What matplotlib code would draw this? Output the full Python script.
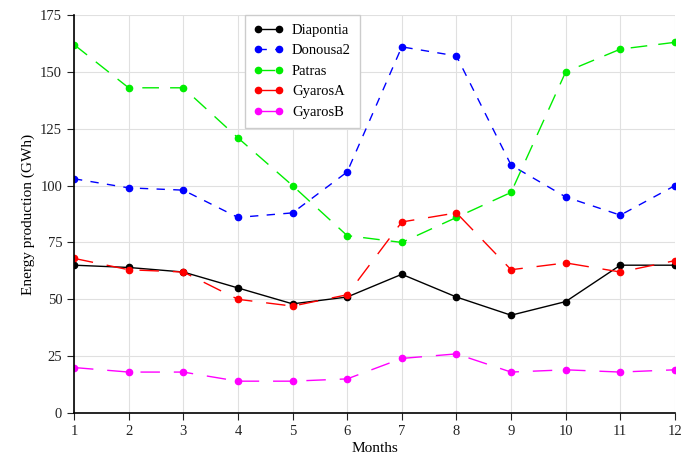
import matplotlib
matplotlib.use("Agg")
import matplotlib.pyplot as plt

months = list(range(1, 13))
diapontia = [65, 64, 62, 55, 48, 51, 61, 51, 43, 49, 65, 65]
donousa2 = [103, 99, 98, 86, 88, 106, 161, 157, 109, 95, 87, 100]
patras = [162, 143, 143, 121, 100, 78, 75, 86, 97, 150, 160, 163]
gyarosA = [68, 63, 62, 50, 47, 52, 84, 88, 63, 66, 62, 67]
gyarosB = [20, 18, 18, 14, 14, 15, 24, 26, 18, 19, 18, 19]
yticks = [0, 25, 50, 75, 100, 125, 150, 175]

plt.rcParams['font.family'] = ['Liberation Serif', 'DejaVu Serif']
fig = plt.figure(figsize=(6.82, 4.65), dpi=100)
ax = fig.add_axes([0.1085, 0.1118, 0.8812, 0.8559])

ms = 4.5
ax.plot(months, diapontia, color='black', lw=1.0, ls='-', marker='o', ms=ms, label='Diapontia')
ax.plot(months, donousa2, color='#0000ff', lw=1.0, ls=(0, (6, 6)), marker='o', ms=ms, label='Donousa2')
ax.plot(months, patras, color='#00ee00', lw=1.0, ls=(0, (12, 8)), marker='o', ms=ms, label='Patras')
ax.plot(months, gyarosA, color='#ff0000', lw=1.0, ls=(0, (14, 10)), marker='o', ms=ms, label='GyarosA')
ax.plot(months, gyarosB, color='#ff00ff', lw=1.0, ls=(0, (14, 10)), marker='o', ms=ms, label='GyarosB')

ax.set_xlim(1, 12)
ax.set_ylim(0, 175)
ax.set_xticks(months)
ax.set_yticks(yticks)
ax.grid(True, color='#e0e0e0', lw=0.8)
ax.set_axisbelow(True)
for s in ['top', 'right']:
    ax.spines[s].set_visible(False)
ax.spines['left'].set_linewidth(1.2)
ax.spines['bottom'].set_linewidth(1.2)
ax.tick_params(labelsize=10.5, colors='#222222', direction='out', length=5)
ax.set_xlabel('Months', fontsize=11, labelpad=3)
ax.set_ylabel('Energy production (GWh)', fontsize=11)

leg = ax.legend(loc='upper left', bbox_to_anchor=(0.285, 1.0), fontsize=10.5,
                frameon=True, fancybox=False, edgecolor='#cccccc', framealpha=1,
                handlelength=2.0, numpoints=2, labelspacing=0.5, borderpad=0.6,
                handletextpad=0.6, borderaxespad=0)
fig.savefig('out.png', dpi=100)
